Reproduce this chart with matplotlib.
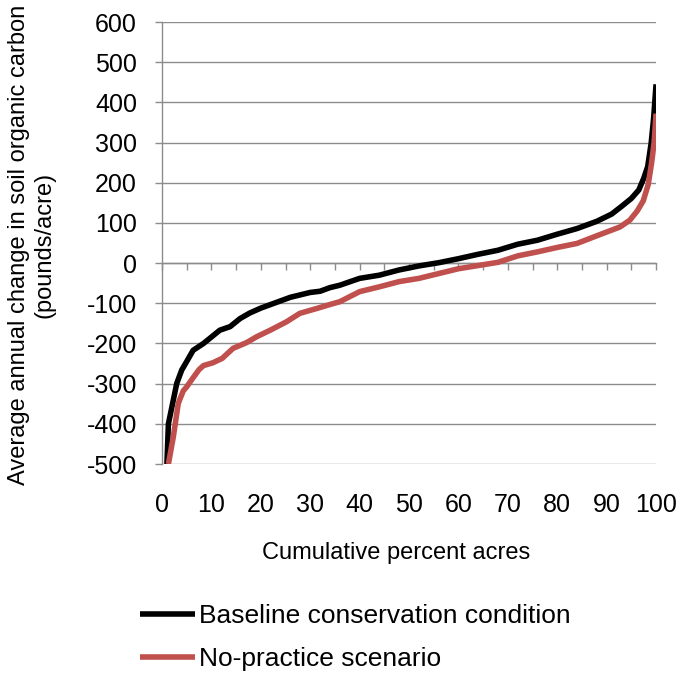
# Cumulative distribution of annual soil organic carbon change

import matplotlib
matplotlib.use('Agg')
from matplotlib import pyplot as plt
import numpy as np

plt.rcParams['font.family'] = ['Liberation Sans', 'DejaVu Sans']
plt.rcParams['axes.unicode_minus'] = False

# Baseline conservation condition (percent acres, pounds/acre)
base_pct = [1.0, 1.3, 3.0, 4.0, 5.0, 6.3, 8.4, 9.7, 11.7, 13.8, 15.8, 17.8,
            20.0, 22.0, 26.0, 30.0, 32.0, 34.0, 36.0, 40.0, 44.0, 48.0, 52.0,
            56.0, 60.0, 64.0, 68.0, 72.0, 76.0, 80.0, 84.0, 88.0, 91.0, 93.0,
            95.0, 96.5, 97.5, 98.3, 99.0, 99.5, 100.0]
base_soc = [-500, -400, -299, -266, -245, -217, -200, -187, -167, -158, -138, -124,
            -112, -103, -85, -73, -70, -61, -55, -38, -30, -17, -7,
            1, 11, 22, 32, 47, 57, 72, 86, 104, 122, 141,
            161, 182, 211, 240, 298, 360, 445]

# No-practice scenario
nop_pct = [1.3, 2.3, 3.3, 4.3, 5.0, 6.2, 7.5, 8.4, 10.3, 12.2, 14.4, 17.1,
           19.2, 21.9, 25.2, 27.9, 31.3, 34.0, 36.0, 40.0, 44.0, 48.0, 52.0,
           56.0, 60.0, 64.0, 68.0, 72.0, 76.0, 80.0, 84.0, 88.0, 92.7, 94.7,
           96.2, 97.4, 98.4, 99.1, 99.6, 100.0]
nop_soc = [-500, -432, -349, -318, -308, -287, -265, -255, -248, -237, -212, -198,
           -183, -167, -146, -125, -113, -103, -96, -71, -59, -46, -38,
           -26, -14, -6, 2, 18, 28, 39, 49, 68, 90, 107,
           130, 155, 195, 250, 300, 372]

labels = ['Baseline conservation condition', 'No-practice scenario']
colors = ['#000000', '#C0504D']
grey = '#8C8C8C'

fig = plt.figure(figsize=(6.82, 6.73), dpi=100)
ax = fig.add_axes([0.2375, 0.3105, 0.7245, 0.6568])

ax.plot(base_pct, base_soc, color=colors[0], lw=4, label=labels[0], zorder=3,
        solid_capstyle='butt')
ax.plot(nop_pct, nop_soc, color=colors[1], lw=4, label=labels[1], zorder=3,
        solid_capstyle='butt')

ax.set_xlim(0, 100)
ax.set_ylim(-500, 600)

# y axis with horizontal gridlines
ax.set_yticks(np.arange(-500, 601, 100))
ax.yaxis.grid(True, color=grey, lw=1.0)
ax.set_axisbelow(True)
ax.tick_params(axis='y', direction='out', length=5, width=1.0, color=grey,
               labelsize=18, pad=13)
ax.spines['left'].set_color(grey)
ax.spines['left'].set_linewidth(1.0)
ax.spines['top'].set_visible(False)
ax.spines['right'].set_visible(False)

# category axis crosses at zero, tick marks every 5
ax.spines['bottom'].set_position(('data', 0))
ax.spines['bottom'].set_color(grey)
ax.spines['bottom'].set_linewidth(1.0)
ax.set_xticks(np.arange(0, 101, 5))
ax.tick_params(axis='x', direction='out', length=5, width=1.0, color=grey,
               labelbottom=False)

# tick labels along the bottom of the plot area
sec = ax.secondary_xaxis('bottom')
sec.set_xticks(np.arange(0, 101, 10))
sec.tick_params(length=0, labelsize=18, pad=21)
sec.spines['bottom'].set_visible(False)

fig.text(0.046, 0.636, 'Average annual change in soil organic carbon\n(pounds/acre)',
         rotation=90, ha='center', va='center', multialignment='center', fontsize=17)
fig.text(0.581, 0.178, 'Cumulative percent acres', ha='center', va='center', fontsize=17)

fig.legend(loc='upper left', bbox_to_anchor=(0.2053, 0.102), frameon=False,
           fontsize=19, handlelength=2.1, handletextpad=0.15, labelspacing=0.7,
           borderpad=0, borderaxespad=0)

fig.savefig('out.png', dpi=100)
